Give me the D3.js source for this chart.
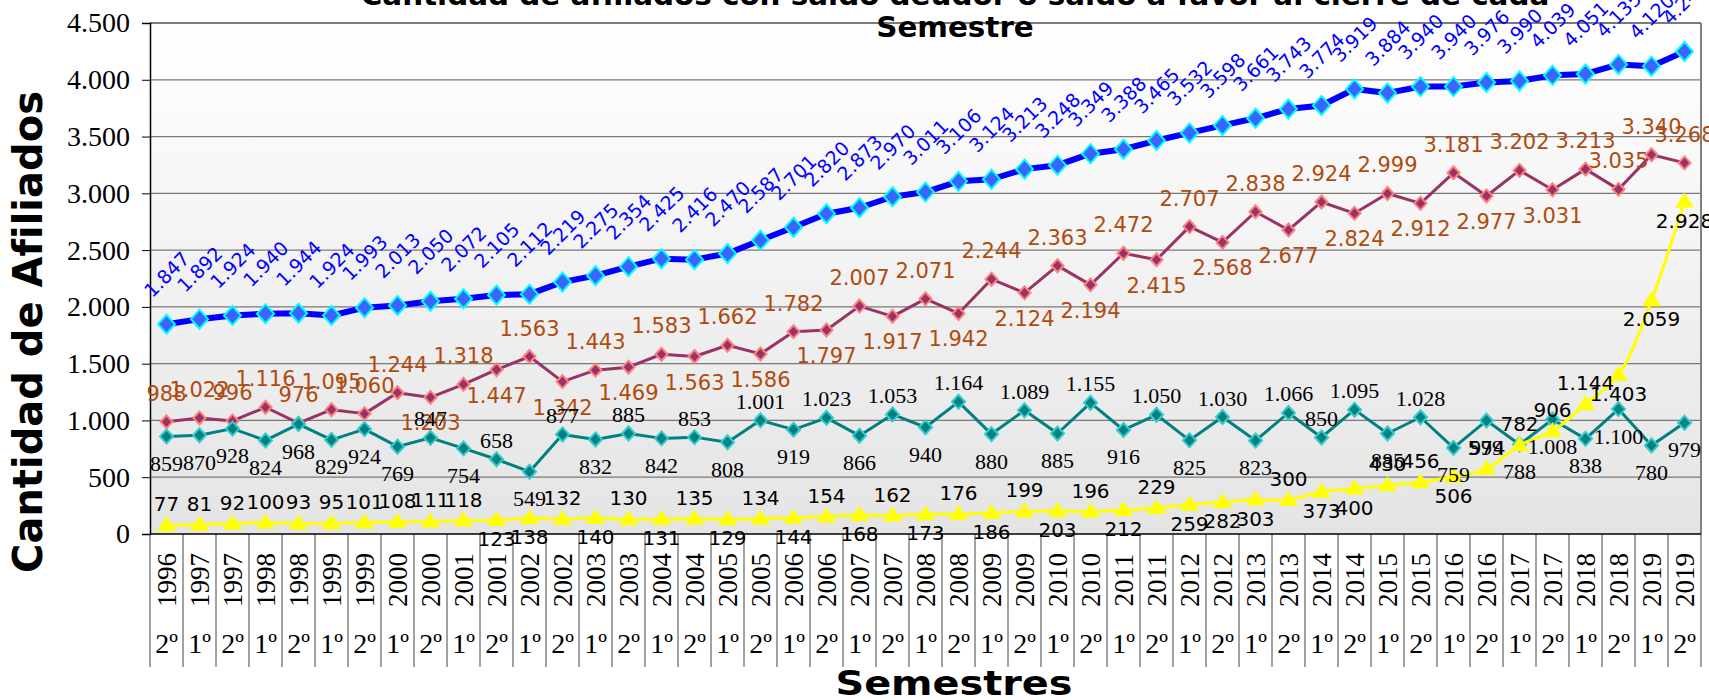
<!DOCTYPE html>
<html lang="es">
<head>
<meta charset="UTF-8">
<title>Cantidad de afiliados</title>
<script src="https://d3js.org/d3.v7.min.js"></script>
<style>
    body { margin: 0; background: #fff; }
</style>
</head>
<body>
<script>

    var width = 1709,
        height = 700;

    var SANS = "'DejaVu Sans', Verdana, sans-serif",
        SERIF = "'Liberation Serif', 'Times New Roman', serif";

    var years = ["1996","1997","1997","1998","1998","1999","1999","2000","2000","2001","2001",
        "2002","2002","2003","2003","2004","2004","2005","2005","2006","2006","2007","2007",
        "2008","2008","2009","2009","2010","2010","2011","2011","2012","2012","2013","2013",
        "2014","2014","2015","2015","2016","2016","2017","2017","2018","2018","2019","2019"];

    var semesters = ["2º","1º","2º","1º","2º","1º","2º","1º","2º","1º",
        "2º","1º","2º","1º","2º","1º","2º","1º","2º","1º",
        "2º","1º","2º","1º","2º","1º","2º","1º","2º","1º",
        "2º","1º","2º","1º","2º","1º","2º","1º","2º","1º",
        "2º","1º","2º","1º","2º","1º","2º"];

    var blueVals = [1847,1892,1924,1940,1944,1924,1993,2013,2050,2072,2105,2112,2219,2275,2354,2425,
        2416,2470,2587,2701,2820,2873,2970,3011,3106,3124,3213,3248,3349,3388,3465,3532,3598,3661,
        3743,3774,3919,3884,3940,3940,3976,3990,4039,4051,4135,4120,4249];

    var maroonVals = [988,1022,996,1116,976,1095,1060,1244,1203,1318,1447,1563,1342,1443,1469,1583,
        1563,1662,1586,1782,1797,2007,1917,2071,1942,2244,2124,2363,2194,2472,2415,2707,2568,2838,
        2677,2924,2824,2999,2912,3181,2977,3202,3031,3213,3035,3340,3268];

    var tealVals = [859,870,928,824,968,829,924,769,847,754,658,549,877,832,885,842,853,808,1001,919,
        1023,866,1053,940,1164,880,1089,885,1155,916,1050,825,1030,823,1066,850,1095,885,1028,759,
        999,788,1008,838,1100,780,979];

    var yellowVals = [77,81,92,100,93,95,101,108,111,118,123,138,132,140,130,131,135,129,134,144,
        154,168,162,173,176,186,199,203,196,212,229,259,282,303,300,373,400,430,456,506,574,782,906,
        1144,1403,2059,2928];

    var yTicks = [0,500,1000,1500,2000,2500,3000,3500,4000,4500];

    // where the data labels sit (index lists)
    var tealAbove = [8,10,12,14,16,18,20,22,24,26,28,30,32,34,35,36,38];
    var maroonBelow = d3.range(8, 43, 2);
    var yellowBelow = [10,11,13,15,17,19,21,23,25,27,29,31,32,33,35,36,39,44,45,46];

    var fmt = d3.formatLocale({decimal: ",", thousands: ".", grouping: [3], currency: ["", ""]}).format(",d");

    var cats = years.map(function(y, i) { return y + " " + semesters[i]; });

    var margin = {left: 150, right: 8, top: 23, bottom: 166};
    var x = d3.scaleBand().domain(cats).range([margin.left, width - margin.right]).padding(0);
    var y = d3.scaleLinear().domain([0, 4500]).range([height - margin.bottom, margin.top]);
    var cx = function(i) { return x(cats[i]) + x.bandwidth() / 2; };

    var svg = d3.select("body").append("svg")
        .attr("width", width)
        .attr("height", height)
        .style("font-family", SANS);

    var grad = svg.append("defs").append("linearGradient")
        .attr("id", "bg").attr("x1", 0).attr("y1", 0).attr("x2", 0).attr("y2", 1);
    grad.append("stop").attr("offset", "0%").attr("stop-color", "#ffffff");
    grad.append("stop").attr("offset", "100%").attr("stop-color", "#e4e4e4");

    svg.append("rect")
        .attr("x", margin.left).attr("y", y(4500))
        .attr("width", width - margin.right - margin.left)
        .attr("height", y(0) - y(4500))
        .attr("fill", "url(#bg)");

    // gridlines
    svg.append("g").selectAll("line").data(yTicks.slice(1)).enter().append("line")
        .attr("x1", margin.left).attr("x2", width - margin.right)
        .attr("y1", function(d) { return y(d); }).attr("y2", function(d) { return y(d); })
        .attr("stroke", "#7a7a7a").attr("stroke-width", function(d) { return d === 4500 ? 2 : 1.2; });

    // right border
    svg.append("line")
        .attr("x1", width - margin.right).attr("x2", width - margin.right)
        .attr("y1", y(4500)).attr("y2", y(0))
        .attr("stroke", "#808080").attr("stroke-width", 2);

    // y axis
    var yAxis = svg.append("g")
        .attr("transform", "translate(" + margin.left + ",0)")
        .call(d3.axisLeft(y).tickValues(yTicks).tickSize(8).tickPadding(12).tickFormat(fmt));
    yAxis.attr("font-family", null);
    yAxis.select(".domain").attr("stroke", "#000").attr("stroke-width", 1.5);
    yAxis.selectAll(".tick line").attr("stroke", "#000");
    yAxis.selectAll(".tick text")
        .style("font-family", SERIF)
        .attr("font-size", 28)
        .attr("fill", "#000");

    // x axis: separators and two rows of labels
    var xg = svg.append("g");
    xg.selectAll("line.sep").data(d3.range(cats.length + 1)).enter().append("line")
        .attr("class", "sep")
        .attr("x1", function(i) { return margin.left + i * x.bandwidth(); })
        .attr("x2", function(i) { return margin.left + i * x.bandwidth(); })
        .attr("y1", y(0)).attr("y2", 667)
        .attr("stroke", "#444").attr("stroke-width", 1);
    xg.append("line")
        .attr("x1", margin.left).attr("x2", width - margin.right)
        .attr("y1", y(0)).attr("y2", y(0))
        .attr("stroke", "#000").attr("stroke-width", 1.5);

    xg.selectAll("text.year").data(years).enter().append("text")
        .style("font-family", SERIF)
        .attr("font-size", 27)
        .attr("text-anchor", "middle")
        .attr("dominant-baseline", "central")
        .attr("transform", function(d, i) { return "translate(" + cx(i) + ",580) rotate(-90)"; })
        .text(function(d) { return d; });

    xg.selectAll("text.sem").data(semesters).enter().append("text")
        .style("font-family", SERIF)
        .attr("font-size", 28)
        .attr("text-anchor", "middle")
        .attr("x", function(d, i) { return cx(i); })
        .attr("y", 653)
        .text(function(d) { return d; });

    function diamond(hw, hh) {
        return "M0," + (-hh) + "L" + hw + ",0L0," + hh + "L" + (-hw) + ",0Z";
    }

    function drawSeries(vals, opt) {
        var line = d3.line()
            .x(function(d, i) { return cx(i); })
            .y(function(d) { return y(d); })
            .curve(opt.curve || d3.curveLinear);
        svg.append("path")
            .datum(vals)
            .attr("d", line)
            .attr("fill", "none")
            .attr("stroke", opt.color)
            .attr("stroke-width", opt.width)
            .attr("stroke-linejoin", "round");
        svg.append("g").selectAll("path").data(vals).enter().append("path")
            .attr("transform", function(d, i) { return "translate(" + cx(i) + "," + y(d) + ")"; })
            .attr("d", opt.marker)
            .attr("fill", opt.fill)
            .attr("stroke", opt.stroke || "none")
            .attr("stroke-width", opt.stroke ? 2 : 0);
    }

    drawSeries(blueVals, {color: "#0000ff", width: 6, marker: diamond(8.5, 9.5), fill: "#3a66ff", stroke: "#00ffff"});
    drawSeries(maroonVals, {color: "#993366", width: 3, marker: diamond(6, 6.5), fill: "#993366", stroke: "#ff8080"});
    drawSeries(tealVals, {color: "#008080", width: 3, marker: diamond(6.5, 7), fill: "#008080", stroke: "#33cccc"});
    drawSeries(yellowVals, {color: "#ffff00", width: 3, marker: "M0,-9L9.5,6L-9.5,6Z", fill: "#ffff00",
        curve: d3.curveCatmullRom});

    // data labels
    var lab = svg.append("g");

    lab.selectAll("text.blue").data(blueVals).enter().append("text")
        .attr("font-size", 19)
        .attr("fill", "#0000ff")
        .attr("text-anchor", "middle")
        .attr("dominant-baseline", "central")
        .attr("transform", function(d, i) { return "translate(" + cx(i) + "," + (y(d) - 50) + ") rotate(-45)"; })
        .text(fmt);

    lab.selectAll("text.maroon").data(maroonVals).enter().append("text")
        .attr("font-size", 21)
        .attr("fill", "#b04a0e")
        .attr("text-anchor", "middle")
        .attr("dominant-baseline", "central")
        .attr("x", function(d, i) { return cx(i); })
        .attr("y", function(d, i) { return y(d) + (maroonBelow.indexOf(i) >= 0 ? 26 : -28); })
        .text(fmt);

    lab.selectAll("text.teal").data(tealVals).enter().append("text")
        .style("font-family", SERIF)
        .attr("font-size", 22)
        .attr("fill", "#000")
        .attr("text-anchor", "middle")
        .attr("dominant-baseline", "central")
        .attr("x", function(d, i) { return cx(i); })
        .attr("y", function(d, i) { return y(d) + (tealAbove.indexOf(i) >= 0 ? -19 : 27); })
        .text(fmt);

    lab.selectAll("text.yellow").data(yellowVals).enter().append("text")
        .attr("font-size", 20)
        .attr("fill", "#000")
        .attr("text-anchor", "middle")
        .attr("dominant-baseline", "central")
        .attr("x", function(d, i) { return cx(i); })
        .attr("y", function(d, i) { return y(d) + (yellowBelow.indexOf(i) >= 0 ? 19 : -21); })
        .text(fmt);

    // titles
    var title = svg.append("text")
        .attr("font-weight", "bold")
        .attr("font-size", 28)
        .attr("text-anchor", "middle")
        .attr("transform", "translate(955,0) scale(1.05,1)");
    title.append("tspan").attr("x", 0).attr("y", 5)
        .text("Cantidad de afiliados con saldo deudor o saldo a favor al cierre de cada");
    title.append("tspan").attr("x", 0).attr("y", 37).text("Semestre");

    svg.append("text")
        .attr("font-weight", "bold")
        .attr("font-size", 34)
        .attr("text-anchor", "middle")
        .attr("transform", "translate(954,695) scale(1.17,1)")
        .text("Semestres");

    svg.append("text")
        .attr("font-weight", "bold")
        .attr("font-size", 40)
        .attr("text-anchor", "middle")
        .attr("transform", "translate(42,332) rotate(-90)")
        .text("Cantidad de Afiliados");

</script>
</body>
</html>
